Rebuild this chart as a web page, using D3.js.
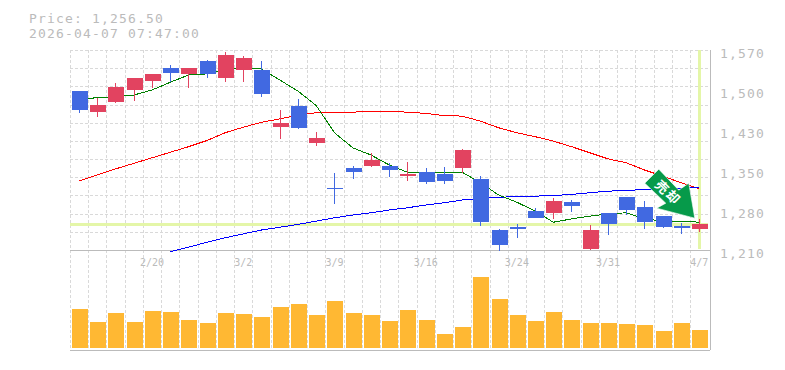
<!DOCTYPE html>
<html>
<head>
<meta charset="utf-8">
<script src="https://cdn.jsdelivr.net/npm/d3@7"></script>
<style>
  html, body { margin: 0; padding: 0; background: #fff; }
  svg { display: block; }
  text { font-family: "DejaVu Sans Mono", monospace; fill: #bbb; }
</style>
</head>
<body>
<div id="chart"></div>
<script>
var days = ["2/16","2/17","2/18","2/19","2/20","2/24","2/25","2/26","2/27","3/2","3/3","3/4","3/5","3/6","3/9","3/10","3/11","3/12","3/13","3/16","3/17","3/18","3/19","3/23","3/24","3/25","3/26","3/27","3/30","3/31","4/1","4/2","4/3","4/6","4/7"];
var open_ = [1496,1458,1476,1498,1514,1538,1527,1550,1520,1534,1534,1431,1469,1403,1322,1358,1361,1361,1343,1350,1347,1358,1338,1246,1251,1280,1277,1296,1212,1277,1305,1287,1271,1253,1248];
var close_ = [1462,1471,1503,1520,1527,1529,1538,1527,1561,1556,1491,1439,1430,1412,1320,1350,1372,1354,1347,1332,1334,1390,1260,1219,1248,1268,1298,1289,1246,1257,1282,1260,1251,1250,1257];
var high = [1496,1484,1511,1520,1527,1543,1538,1552,1566,1559,1550,1462,1482,1422,1349,1361,1385,1367,1368,1358,1359,1392,1343,1248,1257,1286,1304,1300,1255,1277,1305,1298,1271,1259,1266];
var low = [1457,1449,1475,1478,1502,1512,1502,1520,1512,1512,1485,1410,1428,1397,1293,1338,1359,1341,1334,1329,1329,1349,1253,1208,1232,1268,1266,1278,1210,1237,1273,1248,1250,1239,1242];
var ma_short = [1482,1484,1486,1489,1498,1512,1525,1527,1534,1538,1536,1516,1496,1470,1421,1394,1381,1363,1350,1350,1349,1350,1331,1309,1296,1280,1260,1266,1271,1275,1277,1266,1262,1262,1260];
var ma_mid = [1334,1345,1356,1366,1376,1386,1396,1407,1421,1431,1440,1446,1453,1457,1458,1458,1460,1460,1458,1456,1452,1451,1442,1430,1421,1414,1406,1396,1385,1374,1367,1354,1343,1331,1320];
var ma_long = [null,null,null,null,null,1207,1215,1224,1232,1239,1246,1251,1256,1262,1268,1273,1277,1282,1286,1291,1295,1300,1303,1305,1306,1307,1308,1310,1313,1316,1317,1319,1320,1321,1323];
var volume = [39,26,35,26,37,36,28,25,35,34,31,41,44,33,47,35,33,27,38,28,14,21,71,49,33,27,36,28,25,25,24,23,17,25,18];
var price_ticks = [1570,1498,1426,1354,1282,1210];
var date_ticks = ["2/20","3/2","3/9","3/16","3/24","3/31","4/7"];
var last_price = 1256.5;

var left = 70, right = 708.4, top_ = 50, mid = 250, bottom = 350;

var svg = d3.select("#chart").append("svg")
    .attr("width", 785)
    .attr("height", 370);

var x = d3.scaleBand().domain(days).range([left, right]);
var y = d3.scaleLinear().domain([1210, 1570]).range([mid, top_]);
var yVol = d3.scaleLinear().domain([0, 100]).range([348, 248]);

// grid
var grid = svg.append("g")
    .attr("stroke", "#d9d9d9")
    .attr("stroke-dasharray", "3,2")
    .attr("shape-rendering", "crispEdges");
days.forEach(function(d) {
    var gx = Math.round(x(d)) + 0.5;
    grid.append("line").attr("x1", gx).attr("x2", gx).attr("y1", top_).attr("y2", bottom);
});
d3.range(0, 11).forEach(function(i) {
    var gy = Math.round(top_ + i * (mid - top_) / 11) + 0.5;
    grid.append("line").attr("x1", left).attr("x2", right).attr("y1", gy).attr("y2", gy);
});

// last price cross hair
var hl = svg.append("g").attr("stroke", "#e4f6a8").attr("stroke-width", 3).attr("shape-rendering", "crispEdges");
hl.append("line").attr("x1", left).attr("x2", right).attr("y1", y(last_price)).attr("y2", y(last_price));
hl.append("line")
    .attr("x1", x("4/7") + x.bandwidth() / 2).attr("x2", x("4/7") + x.bandwidth() / 2)
    .attr("y1", top_).attr("y2", mid - 1);

// axis frame
var frame = svg.append("g").attr("stroke", "#bbb").attr("shape-rendering", "crispEdges");
frame.append("line").attr("x1", left).attr("x2", 710).attr("y1", mid + 0.5).attr("y2", mid + 0.5);
frame.append("line").attr("x1", left).attr("x2", 710).attr("y1", bottom + 0.5).attr("y2", bottom + 0.5);
frame.append("line").attr("x1", 710.5).attr("x2", 710.5).attr("y1", top_).attr("y2", bottom);

// moving averages
var line = d3.line()
    .defined(function(d) { return d !== null; })
    .x(function(d, i) { return x(days[i]) + x.bandwidth() / 2; })
    .y(function(d) { return y(d); });
[[ma_mid, "#ff0000"], [ma_long, "#0000ff"], [ma_short, "#008000"]].forEach(function(s) {
    svg.append("path")
        .attr("d", line(s[0]))
        .attr("fill", "none")
        .attr("stroke", s[1])
        .attr("stroke-width", 1)
        .attr("shape-rendering", "crispEdges");
});

// candles
var up = "#e24360", down = "#4169e1";
var candle = svg.selectAll(".candle")
    .data(days)
  .enter().append("g")
    .attr("class", "candle")
    .attr("shape-rendering", "crispEdges")
    .attr("fill", function(d, i) { return close_[i] >= open_[i] ? up : down; })
    .attr("stroke", function(d, i) { return close_[i] >= open_[i] ? up : down; });
candle.append("line")
    .attr("x1", function(d) { return Math.round(x(d)) + 9.5; })
    .attr("x2", function(d) { return Math.round(x(d)) + 9.5; })
    .attr("y1", function(d, i) { return y(high[i]); })
    .attr("y2", function(d, i) { return y(low[i]); });
candle.append("rect")
    .attr("stroke", "none")
    .attr("x", function(d) { return Math.round(x(d)) + 2; })
    .attr("width", 16)
    .attr("y", function(d, i) { return y(Math.max(open_[i], close_[i])); })
    .attr("height", function(d, i) { return Math.max(1, Math.abs(y(open_[i]) - y(close_[i]))); });

// volume
svg.selectAll(".vol")
    .data(volume)
  .enter().append("rect")
    .attr("class", "vol")
    .attr("fill", "#ffb833")
    .attr("x", function(d, i) { return Math.round(x(days[i])) + 2; })
    .attr("width", 16)
    .attr("y", function(d) { return yVol(d); })
    .attr("height", function(d) { return yVol(0) - yVol(d); });

// axes
var yAxis = d3.axisRight(y)
    .tickValues(price_ticks)
    .tickSize(0)
    .tickPadding(0)
    .tickFormat(function(d) { return d3.format(",")(Math.round(d / 10) * 10); });
var gy = svg.append("g").attr("transform", "translate(720,0)").call(yAxis);
gy.select(".domain").remove();
gy.selectAll("text").attr("dy", 7.5)
    .style("font-family", '"DejaVu Sans Mono", monospace')
    .style("font-size", "13px")
    .style("letter-spacing", "1.17px");

var xAxis = d3.axisBottom(x).tickValues(date_ticks).tickSize(0).tickPadding(0);
var gx = svg.append("g").attr("transform", "translate(0," + mid + ")").call(xAxis);
gx.select(".domain").remove();
gx.selectAll("text").attr("y", 16).attr("dy", 0)
    .style("font-family", '"DejaVu Sans Mono", monospace')
    .style("font-size", "10px");

// header
[["Price: 1,256.50", 22.5], ["2026-04-07 07:47:00", 37.5]].forEach(function(h) {
    svg.append("text").attr("x", 29).attr("y", h[1])
        .style("font-size", "13px")
        .style("letter-spacing", "1.17px")
        .text(h[0]);
});

// arrow badge, tip sits just above the last candle
var tipX = x("4/7") + x.bandwidth() / 2 - 4.5, tipY = y(last_price) - 6;
var badge = svg.append("g").attr("transform", "translate(" + tipX + "," + tipY + ")");
badge.append("path")
    .attr("d", "M-36,-49L-50,-35L-29,-15L-38,-10L0,0L-6,-35L-16,-28Z")
    .attr("fill", "#069a4a")
    .attr("stroke", "#fff")
    .attr("stroke-width", 0.6);
[["売", -33, -31], ["却", -22, -21]].forEach(function(c) {
    badge.append("text")
        .attr("transform", "translate(" + c[1] + "," + c[2] + ") rotate(45)")
        .attr("text-anchor", "middle")
        .attr("dy", 4.5)
        .style("font-family", '"Noto Sans CJK JP"')
        .style("font-weight", "bold")
        .style("font-size", "13px")
        .style("fill", "#fff")
        .text(c[0]);
});
</script>
</body>
</html>
